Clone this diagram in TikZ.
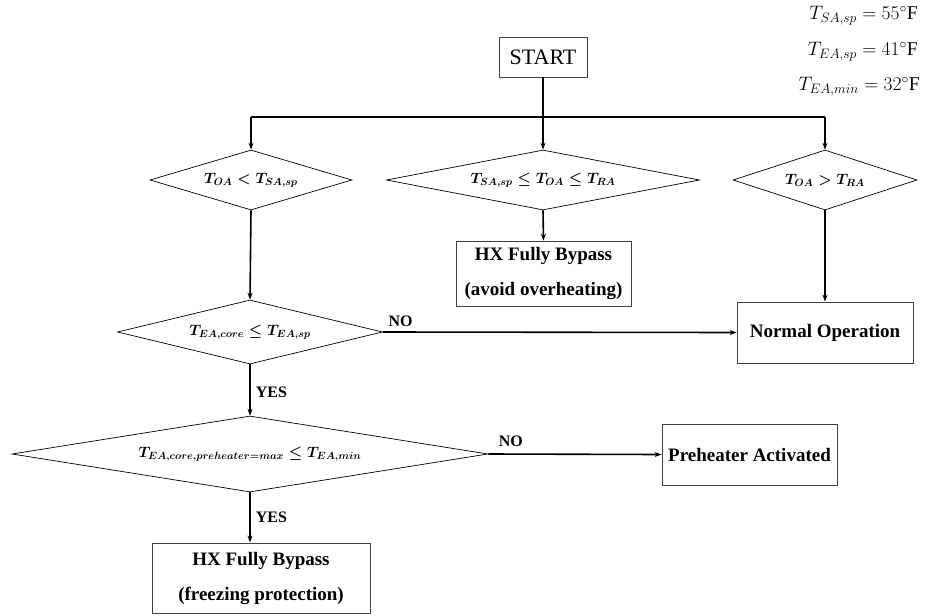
\RequirePackage{fix-cm}
\documentclass[tikz,border=0pt]{standalone}
\usepackage{amsmath}
\usepackage{fontspec}
\setmainfont{Liberation Serif}
\usetikzlibrary{shapes.geometric,arrows.meta}
\begin{document}
\begin{tikzpicture}[x=1pt,y=-1pt,
  dec/.style={diamond,draw,line width=0.7pt,inner sep=0pt,aspect=4,font=\boldmath\fontsize{15}{18}\selectfont},
  boxa/.style={rectangle,draw=black!75,line width=0.8pt,inner sep=0pt,align=center,font=\bfseries\fontsize{19}{35}\selectfont},
  conn/.style={line width=1.6pt},
  arr/.style={conn,-{Stealth[length=7pt,width=5pt]}},
  lab/.style={font=\bfseries\fontsize{16}{18}\selectfont,inner sep=0pt},
  eqn/.style={font=\fontsize{19.5}{22}\selectfont,anchor=east,inner sep=0pt}]
\useasboundingbox (0,0) rectangle (925,615);

\node[eqn] (e1) at (918,16) {$T_{SA,sp} = 55^{\circ}\mathrm{F}$};
\node[eqn] (e2) at (918,52) {$T_{EA,sp} = 41^{\circ}\mathrm{F}$};
\node[eqn] (e3) at (920,87) {$T_{EA,min} = 32^{\circ}\mathrm{F}$};

\node[rectangle,draw=black!75,line width=0.8pt,minimum width=88pt,minimum height=40pt,font=\fontsize{22}{24}\selectfont] (start) at (543,57) {START};

\node[dec,minimum width=202pt,minimum height=60pt] (d1) at (251,180) {$T_{OA} < T_{SA,sp}$};
\node[dec,minimum width=313pt,minimum height=60pt] (d2) at (543,180) {$T_{SA,sp} \leq T_{OA} \leq T_{RA}$};
\node[dec,minimum width=184pt,minimum height=60pt] (d3) at (825,180) {$T_{OA} > T_{RA}$};

\node[boxa,minimum width=175pt,minimum height=65pt] (b2) at (543.5,273.5) {HX Fully Bypass\\(avoid overheating)};

\node[dec,minimum width=265pt,minimum height=64pt] (d4) at (250,332) {$T_{EA,core} \leq T_{EA,sp}$};
\node[boxa,minimum width=176pt,minimum height=61pt] (normal) at (825,332.5) {Normal Operation};

\node[dec,aspect=6,minimum width=476pt,minimum height=76pt] (d5) at (250,454) {$T_{EA,core,preheater=max} \leq T_{EA,min}$};
\node[boxa,minimum width=175pt,minimum height=61pt] (pre) at (749.5,454.5) {Preheater Activated};

\node[boxa,minimum width=218pt,minimum height=70pt] (b5) at (261,578) {HX Fully Bypass\\(freezing protection)};

\coordinate (j) at (543,117);
\draw[conn] (start.south) -- (j);
\draw[conn] (d1.north |- j) -- (d3.north |- j);
\draw[arr] (d1.north |- j) -- (d1.north);
\draw[arr] (j) -- (d2.north);
\draw[arr] (d3.north |- j) -- (d3.north);
\draw[arr] (d1.south) -- (d4.north);
\draw[arr] (d2.south) -- (b2.north);
\draw[arr] (d3.south) -- (normal.north);
\draw[arr] (d4.east) -- node[lab,pos=0.05,above=5pt] (no1) {NO} (normal.west);
\draw[arr] (d4.south) -- node[lab,pos=0.55,right=5pt] (yes1) {YES} (d5.north);
\draw[arr] (d5.east) -- node[lab,pos=0.13,above=7pt] (no2) {NO} (pre.west);
\draw[arr] (d5.south) -- node[lab,pos=0.5,right=5pt] (yes2) {YES} (d5.south |- b5.north);
\end{tikzpicture}
\end{document}
